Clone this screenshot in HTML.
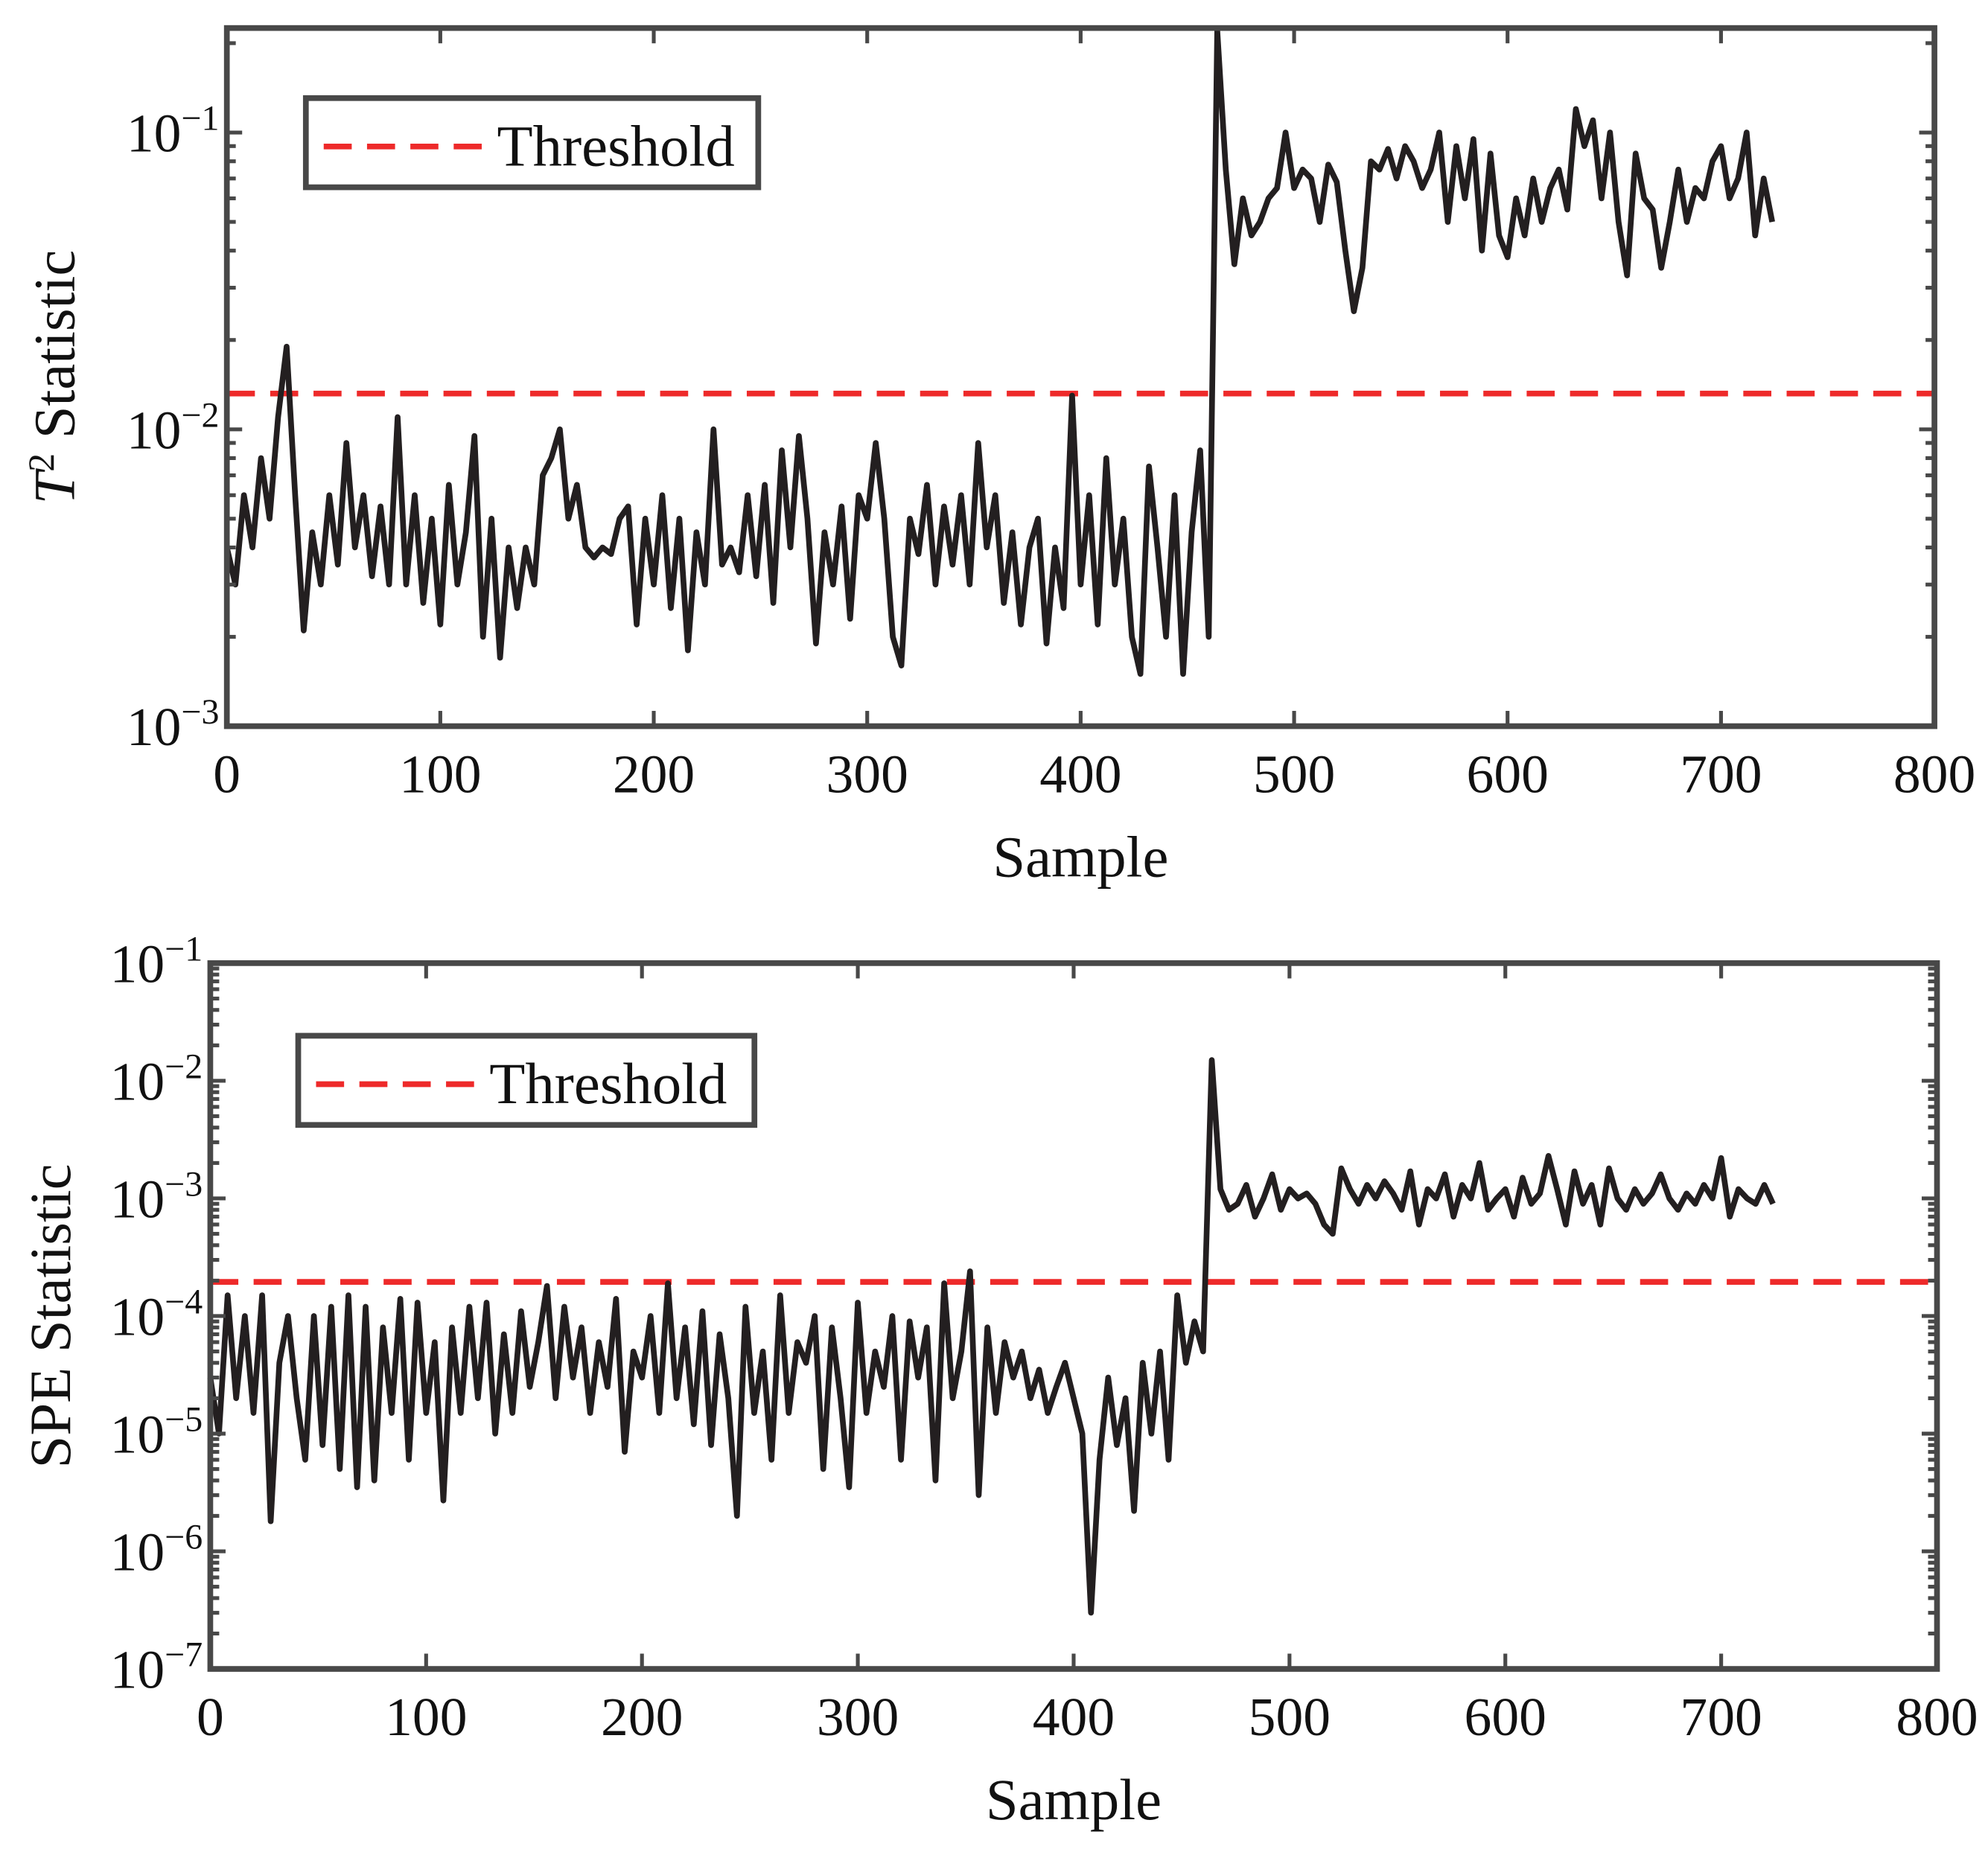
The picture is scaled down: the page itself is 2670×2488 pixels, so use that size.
<!DOCTYPE html>
<html><head><meta charset="utf-8"><style>
html,body{margin:0;padding:0;background:#fff}
svg{display:block}
text{font-family:"Liberation Serif",serif;fill:#111}
</style></head><body>
<svg id="fig" width="2670" height="2488" viewBox="0 0 1560 1453.7" xmlns="http://www.w3.org/2000/svg"></svg>
<script>
const STEP = 4;
const xTicks = [0,100,200,300,400,500,600,700,800];
const t2Exps = [-3,-2,-1];
const speExps = [-7,-6,-5,-4,-3,-2,-1];
const t2Threshold = 0.0132;
const speThreshold = 1.95e-4;
const t2Values = [
4e-3,3e-3,6e-3,4e-3,8e-3,5e-3,1.1e-2,1.9e-2,6e-3,2.1e-3,
4.5e-3,3e-3,6e-3,3.5e-3,9e-3,4e-3,6e-3,3.2e-3,5.5e-3,3e-3,
1.1e-2,3e-3,6e-3,2.6e-3,5e-3,2.2e-3,6.5e-3,3e-3,4.5e-3,9.5e-3,
2e-3,5e-3,1.7e-3,4e-3,2.5e-3,4e-3,3e-3,7e-3,8e-3,1e-2,
5e-3,6.5e-3,4e-3,3.7e-3,4e-3,3.8e-3,5e-3,5.5e-3,2.2e-3,5e-3,
3e-3,6e-3,2.5e-3,5e-3,1.8e-3,4.5e-3,3e-3,1e-2,3.5e-3,4e-3,
3.3e-3,6e-3,3.2e-3,6.5e-3,2.6e-3,8.5e-3,4e-3,9.5e-3,5e-3,1.9e-3,
4.5e-3,3e-3,5.5e-3,2.3e-3,6e-3,5e-3,9e-3,5e-3,2e-3,1.6e-3,
5e-3,3.8e-3,6.5e-3,3e-3,5.5e-3,3.5e-3,6e-3,3e-3,9e-3,4e-3,
6e-3,2.6e-3,4.5e-3,2.2e-3,4e-3,5e-3,1.9e-3,4e-3,2.5e-3,1.3e-2,
3e-3,6e-3,2.2e-3,8e-3,3e-3,5e-3,2e-3,1.5e-3,7.5e-3,4e-3,
2e-3,6e-3,1.5e-3,4.5e-3,8.5e-3,2e-3,0.22,
0.075,0.036,0.06,0.045,0.05,0.06,0.065,0.1,0.065,0.075,
0.07,0.05,0.078,0.068,0.04,0.025,0.035,0.08,0.075,0.088,
0.07,0.09,0.08,0.065,0.075,0.1,0.05,0.09,0.06,0.095,
0.04,0.085,0.045,0.038,0.06,0.045,0.07,0.05,0.065,0.075,
0.055,0.12,0.09,0.11,0.06,0.1,0.05,0.033,0.085,0.06,
0.055,0.035,0.05,0.075,0.05,0.065,0.06,0.08,0.09,0.06,
0.07,0.1,0.045,0.07,0.05];
const speValues = [
3e-5,1e-5,1.5e-4,2e-5,1e-4,1.5e-5,1.5e-4,1.8e-6,4e-5,1e-4,
2e-5,6e-6,1e-4,8e-6,1.2e-4,5e-6,1.5e-4,3.5e-6,1.2e-4,4e-6,
8e-5,1.5e-5,1.4e-4,6e-6,1.3e-4,1.5e-5,6e-5,2.7e-6,8e-5,1.5e-5,
1.2e-4,2e-5,1.3e-4,1e-5,7e-5,1.5e-5,1.1e-4,2.5e-5,6e-5,1.8e-4,
2e-5,1.2e-4,3e-5,8e-5,1.5e-5,6e-5,2.5e-5,1.4e-4,7e-6,5e-5,
3e-5,1e-4,1.5e-5,1.9e-4,2e-5,8e-5,1.2e-5,1.1e-4,8e-6,7e-5,
2e-5,2e-6,1.2e-4,1.5e-5,5e-5,6e-6,1.5e-4,1.5e-5,6e-5,4e-5,
1e-4,5e-6,8e-5,2e-5,3.5e-6,1.3e-4,1.5e-5,5e-5,2.5e-5,1e-4,
6e-6,9e-5,3e-5,8e-5,4e-6,1.9e-4,2e-5,5e-5,2.4e-4,3e-6,
8e-5,1.5e-5,6e-5,3e-5,5e-5,2e-5,3.5e-5,1.5e-5,2.5e-5,4e-5,
2e-5,1e-5,3e-7,6e-6,3e-5,8e-6,2e-5,2.2e-6,4e-5,1e-5,
5e-5,6e-6,1.5e-4,4e-5,9e-5,5e-5,1.5e-2,
1.2e-3,8e-4,9e-4,1.3e-3,7e-4,1e-3,1.6e-3,8e-4,1.2e-3,1e-3,
1.1e-3,9e-4,6e-4,5e-4,1.8e-3,1.2e-3,9e-4,1.3e-3,1e-3,1.4e-3,
1.1e-3,8e-4,1.7e-3,6e-4,1.2e-3,1e-3,1.6e-3,7e-4,1.3e-3,1e-3,
2e-3,8e-4,1e-3,1.2e-3,7e-4,1.5e-3,9e-4,1.1e-3,2.3e-3,1.2e-3,
6e-4,1.7e-3,9e-4,1.3e-3,6e-4,1.8e-3,1e-3,8e-4,1.2e-3,9e-4,
1.1e-3,1.6e-3,1e-3,8e-4,1.1e-3,9e-4,1.3e-3,1e-3,2.2e-3,7e-4,
1.2e-3,1e-3,9e-4,1.3e-3,9e-4];

const NS='http://www.w3.org/2000/svg';
const svg=document.getElementById('fig');
function mk(tag,attrs,parent){const e=document.createElementNS(NS,tag);for(const k in attrs)e.setAttribute(k,attrs[k]);(parent||svg).appendChild(e);return e;}

function drawPanel(o){
  const g=mk('g',{});
  
  
  const L=o.L,R=o.R,T=o.T,B=o.B;
  const xs=v=>L+(v-0)/800*(R-L);
  const ys=v=>B-(Math.log10(v)-o.lmin)/(o.lmax-o.lmin)*(B-T);
  const th=mk('line',{x1:L,x2:R,y1:ys(o.th),y2:ys(o.th),stroke:'#ee2a2a','stroke-width':4.5,'stroke-dasharray':'22 12'},g);
  
  
  let d='';
  o.vals.forEach((v,i)=>{d+=(i?'L':'M')+xs(i*STEP).toFixed(1)+' '+ys(v).toFixed(1);});
  const p=mk('path',{d:d,fill:'none',stroke:'#231f20','stroke-width':4.5,'stroke-linejoin':'round'},g);
  
  
  const f=mk('rect',{x:L,y:T,width:R-L,height:B-T,fill:'none',stroke:'#484848','stroke-width':4.5},g);
  
  
  xTicks.forEach(t=>{
    const x=xs(t);
    mk('line',{x1:x,x2:x,y1:B,y2:B-12,stroke:'#484848','stroke-width':3},g);
    mk('line',{x1:x,x2:x,y1:T,y2:T+12,stroke:'#484848','stroke-width':3},g);
    const tx=mk('text',{x:x,y:B+52,'text-anchor':'middle','font-size':43},g);
    tx.textContent=t;
    
    
  });
  for(let e=Math.floor(o.lmin);e<=Math.ceil(o.lmax);e++){
    for(let m=1;m<10;m++){
      const lv=e+Math.log10(m);
      if(lv<o.lmin-1e-9||lv>o.lmax+1e-9)continue;
      const y=B-(lv-o.lmin)/(o.lmax-o.lmin)*(B-T);
      const len=m===1?12:7;
      mk('line',{x1:L,x2:L+len,y1:y,y2:y,stroke:'#484848','stroke-width':3},g);
      mk('line',{x1:R,x2:R-len,y1:y,y2:y,stroke:'#484848','stroke-width':3},g);
    }
  }
  o.exps.forEach(e=>{
    const y=ys(Math.pow(10,e));
    const tx=mk('text',{x:L-6,y:y+15,'text-anchor':'end','font-size':43},g);
    
    
    const a=mk('tspan',{},tx);a.textContent='10';
    const b=mk('tspan',{dy:-17,'font-size':28},tx);b.textContent='\u2212'+(-e);
  });
  const xl=mk('text',{x:(L+R)/2,y:B+118,'text-anchor':'middle','font-size':46},g);
  xl.textContent='Sample';
  
  
  const yl=mk('text',{x:0,y:0,'text-anchor':'middle','font-size':46,transform:'translate('+o.ylx+','+(T+B)/2+') rotate(-90)'},g);
  
  
  if(o.t2){
    const a=mk('tspan',{'font-style':'italic'},yl);a.textContent='T';
    const b=mk('tspan',{dy:-16,'font-size':29},yl);b.textContent='2';
    const c=mk('tspan',{dy:16},yl);c.textContent=' Statistic';
  } else yl.textContent='SPE Statistic';
  const lg=mk('g',{},g);
  
  
  mk('rect',{x:o.lx,y:o.ly,width:o.lw,height:70,fill:'#fff',stroke:'#484848','stroke-width':4.5},lg);
  mk('line',{x1:o.lx+14,x2:o.lx+140,y1:o.ly+38,y2:o.ly+38,stroke:'#ee2a2a','stroke-width':4.5,'stroke-dasharray':'22 12'},lg);
  const lt=mk('text',{x:o.lx+150,y:o.ly+53,'font-size':46},lg);
  lt.textContent='Threshold';
  
  
}
drawPanel({name:'t2-panel',series:'t2-series',L:178,R:1518,T:22,B:570,lmin:-3,lmax:-0.648,th:t2Threshold,vals:t2Values,exps:t2Exps,ylx:58,t2:true,lx:240,ly:77,lw:355});
drawPanel({name:'spe-panel',series:'spe-series',L:165,R:1520,T:756,B:1310,lmin:-7,lmax:-1,th:speThreshold,vals:speValues,exps:speExps,ylx:55,t2:false,lx:234,ly:813,lw:358});
</script>
</body></html>
